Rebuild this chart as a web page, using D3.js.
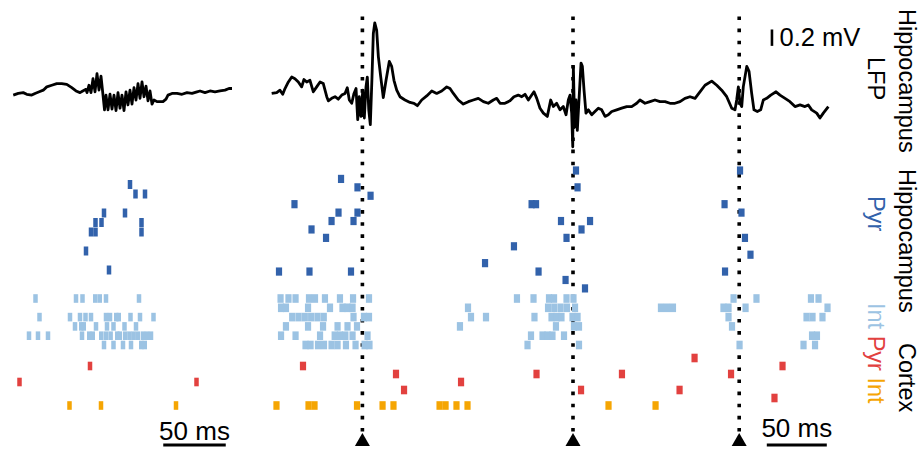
<!DOCTYPE html>
<html><head><meta charset="utf-8">
<script src="https://cdn.jsdelivr.net/npm/d3@7"></script>
<style>body{margin:0;background:#fff}svg{display:block}text{font-family:"Liberation Sans",Arial,sans-serif}</style>
</head><body><svg id="c" width="922" height="449"></svg>
<script>
// ---------------- DATA ----------------
// LFP traces: [time (ms), voltage (mV)]
const lfpLeft = [[1,.06],[5,.08],[9,.09],[11.8,.07],[15.8,.06],[18.4,.08],[21.8,.10],[25,.12],[27.8,.16],[31.8,.18],[35.8,.20],[39.8,.20],[43.8,.19],[47.8,.15],[51.2,.11],[54.4,.09],[56.6,.11],[59.2,.13],
[60,.09],[61.6,.18],[63.2,.09],[64.8,.26],[66.4,.10],[68,.32],[69.6,.12],[71.2,.29],[72.8,.06],[74,-.12],
[75.2,.06],[76.8,-.12],[78.4,.07],[80,-.11],[81.6,.06],[83.2,-.13],[84.8,.09],[86.4,-.10],[88,.06],[89.6,-.13],[91.2,.10],[92.8,-.06],[94.4,.12],[96,-.05],[97.6,.15],[99.2,0],[100.8,.20],[102.4,.02],[104,.22],[105.6,.04],[107.2,.17],[108.8,-.01],[110.4,.11],[112,-.05],[113.6,0],
[116,-.02],[118.4,-.02],[120.8,-.02],[123.2,.01],[124.8,.06],[128,.08],[132,.08],[136,.07],[140,.09],[144,.08],[148,.10],[150.4,.11],[154.4,.09],[158.4,.11],[162.4,.10],[166.4,.11],[170.4,.12],[173.6,.14],[176,.14]];

const lfpRight = [[1.4,.08],[5.6,.09],[8.3,.12],[10.6,.07],[12.5,.14],[15.3,.22],[18.1,.28],[20.8,.26],[23.6,.22],[26.4,.16],
[28.3,.25],[30.6,.22],[33.3,.24],[36.1,.10],[38.9,.16],[41.7,.22],[44.4,.20],[47.3,.04],[48.6,-.01],[51.4,.02],
[54.2,.04],[56.9,.01],[59.8,.06],[62.5,.08],[64.4,.15],[66.1,0],[68.1,-.04],[70,.08],[71.7,.14],[73.1,-.24],
[74.4,.04],[75.8,-.20],[77.3,.12],[78.6,-.22],[80,.16],[81.1,.28],[82.3,-.12],[83.6,-.30],[85,.28],[86.1,.81],
[87.3,.94],[88.9,.85],[90.3,.53],[92.3,.28],[94.4,.03],[96.7,.24],[99.4,.47],[101.4,.41],[103.3,.24],[105.6,.12],
[108.3,.04],[112.5,0],[116.7,-.03],[120,-.04],[122.8,-.07],[126.4,0],[130.6,.05],[134.8,.11],[138.9,.08],[143.1,.11],
[147.3,.16],[150,.14],[152.8,.08],[156.9,0],[161.1,-.05],[165.3,-.02],[169.4,0],[173.6,.02],[177.8,-.02],[181.9,-.04],
[186.1,0],[188.9,.02],[191.7,-.04],[195.8,-.04],[200,-.01],[203.3,.04],[206.9,.06],[209.8,.04],[212.5,.07],[215.3,0],
[218.1,.06],[220,.10],[222.3,.02],[225,-.10],[227.8,-.16],[231.1,-.20],[233.9,0],[236.1,-.08],[238.9,-.04],[241.7,-.12],
[244.4,-.08],[246.7,-.18],[248.6,0],[250,.06],[251.4,-.16],[252.3,-.57],[252.8,.41],[253.9,-.33],[255,0],[256.1,-.37],
[257.8,.08],[259.2,.45],[260.3,.41],[261.7,.12],[263.3,-.16],[265.3,-.12],[268.1,-.18],[270.8,-.14],[273.6,-.10],[276.4,-.12],
[279.2,-.20],[281.9,-.18],[284.8,-.14],[288.9,-.12],[293.1,-.10],[297.3,-.08],[301.4,-.08],[305.6,-.04],[308.3,0],[312.5,-.04],
[316.7,-.02],[320.8,0],[325,-.02],[329.2,-.02],[333.3,-.04],[337.5,-.04],[341.7,-.02],[345.8,.02],[350,.04],[354.2,.02],
[358.3,.10],[362.5,.18],[368.1,.23],[372.3,.18],[376.4,.12],[380.6,.04],[384.8,-.10],[387.5,-.12],[388.9,0],[390.3,.16],
[391.7,-.04],[393.1,-.08],[394.4,.16],[397.3,.41],[399.2,.35],[401.4,.08],[403.3,-.12],[406.1,-.14],[408.9,-.12],[411.1,0],
[413.9,.02],[417.3,.06],[421.7,.10],[425,.06],[429.2,.02],[433.3,-.02],[437.5,-.08],[441.7,-.06],[445.8,-.08],[448.6,-.06],
[451.4,-.12],[455.6,-.16],[458.3,-.22],[461.1,-.16],[465.3,-.08]];

// Spikes: [time (ms), neuron row]
const leftHippPyr = [[94.4,0],[98.8,1],[106.4,1],[73.6,3],[90.4,3],[66.8,4],[66.8,5],[71.6,4],[63.2,5],[103.6,4],[103.6,5],[59.2,7],[77.6,9]];
const leftHippInt = [[18.8,0],[51.2,0],[56.4,0],[66.6,0],[70.2,0],[75.2,0],[101.6,0],
 [22,2],[46.4,2],[54.4,2],[58.8,2],[63.2,2],[75.2,2],[78.4,2],[83.4,2],[85.4,2],[94.8,2],[102.4,2],[113.2,2],
 [50.4,3],[55.4,3],[57.4,3],[67.2,3],[76,3],[81.2,3],[90,3],[99.2,3],
 [13.6,4],[20.8,4],[28.8,4],[56,4],[61.8,4],[64.6,4],[71.4,4],[75.2,4],[78.9,4],[84.2,4],[86.2,4],[90.5,4],[94,4],[97.3,4],[100.7,4],[104.8,4],[108,4],[111.2,4],
 [73.6,5],[81.2,5],[88.8,5],[95.2,5],[103.4,5],[106.2,5]];
const leftCtxPyr = [[62.4,1],[6,3],[147.6,3]];
const leftCtxInt = [46,71.2,131.2];

const rightHippPyr = [[255,0],[391.7,0],[59.2,1],[72.9,2],[256.3,2],[83.8,3],[20.4,4],[218,4],[221.7,4],[378.8,4],
 [57.1,5],[72.9,5],[392.9,5],[51.3,6],[69.6,6],[242.5,6],[266.7,6],[34.6,7],[259.6,7],[46.7,8],[247.1,8],[395.8,8],
 [203.3,9],[400.4,10],[179.2,11],[7.5,12],[32.9,12],[67.5,12],[223.8,12],[379.2,12],[246.3,13],[262.5,14]];
const rightHippInt = [
 [8.8,0],[15.4,0],[21.3,0],[32.5,0],[37.5,0],[45.8,0],[58.3,0],[69.2,0],[82.5,0],[205.8,0],[219.6,0],[232.5,0],[236.7,0],[247.1,0],[252.9,0],[386.3,0],[405.4,0],[450.8,0],[457.1,0],
 [9.2,1],[13.3,1],[31.7,1],[50,1],[60.4,1],[64.6,1],[68.8,1],[165,1],[231.7,1],[236.9,1],[242.2,1],[247.5,1],[254.2,1],[325.8,1],[330.8,1],[335.8,1],[377.9,1],[382.1,1],[396.3,1],[464.6,1],
 [18.5,2],[23.8,2],[29,2],[34.3,2],[39.6,2],[44.8,2],[69.6,2],[78.3,2],[82.5,2],[167.5,2],[180,2],[220.4,2],[234.6,2],[238.8,2],[242.9,2],[252.1,2],[256.3,2],[382.1,2],[447.1,2],[452.1,2],[460.4,2],
 [13.3,3],[31.7,3],[44.2,3],[56.3,3],[64.6,3],[72.5,3],[158.3,3],[238.3,3],[253.3,3],[257.5,3],[385,3],
 [9.2,4],[21.3,4],[41.7,4],[53.9,4],[58.3,4],[62.8,4],[68.8,4],[81.3,4],[217.5,4],[227.1,4],[231.3,4],[235.4,4],[245,4],[451.7,4],[455.8,4],
 [29.6,5],[33.8,5],[40,5],[45,5],[51.3,5],[56.3,5],[63.3,5],[71.3,5],[78.8,5],[82.9,5],[214.6,5],[257.5,5],[391.3,5],[444.6,5],[454.2,5]];
const rightCtxPyr = [[27.5,1],[105,2],[111.7,4],[159.2,3],[222.1,2],[259.2,4],[293.3,2],[341.3,4],[353.8,0],[384.2,2],[427.1,1],[420.4,5]];
const rightCtxInt = [5.4,32.1,37.1,72.5,93.8,102.9,141.3,146.3,155.4,164.6,282.1,321.3];

const rippleTimes = [77, 252.5, 391];   // ms, right panel
const scaleBarMs = 50;
const scaleBarMv = 0.2;

// ---------------- DRAW ----------------
const svg = d3.select("#c");
const C = {pyr:"#3262ab", int:"#9cc3e3", cpyr:"#e2413f", cint:"#f5a503"};

const xL = d3.scaleLinear().domain([0,176]).range([12,232]);
const xR = d3.scaleLinear().domain([0,466]).range([270,829.2]);
const yLfp = d3.scaleLinear().domain([0,1]).range([100,18]);
const yPyrL = d3.scaleLinear().domain([0,9]).range([184.5,270]);
const yPyrR = d3.scaleLinear().domain([0,14]).range([170.5,288.4]);
const yInt = d3.scaleLinear().domain([0,5]).range([298.5,345]);
const yCPyr = d3.scaleLinear().domain([0,5]).range([358,398]);
const yCInt = 405.5;

function spikes(data, x, y, w, h, color){
  svg.append("g").selectAll("rect").data(data).join("rect")
    .attr("x", d => x(d[0]) - w/2)
    .attr("y", d => y(d) - h/2)
    .attr("width", w).attr("height", h)
    .attr("fill", color);
}
// dotted ripple lines
const dots = svg.append("g");
rippleTimes.forEach(t => {
  dots.append("line").attr("x1", xR(t)).attr("x2", xR(t)).attr("y1", 16.5).attr("y2", 432)
    .attr("stroke","#000").attr("stroke-width",3.6).attr("stroke-dasharray","3.6 8.5");
  dots.append("path").attr("d", `M${xR(t)-7.5},446L${xR(t)+7.5},446L${xR(t)},433Z`).attr("fill","#000");
});

// LFP
const line = x => d3.line().x(d => x(d[0])).y(d => yLfp(d[1]));
svg.append("path").datum(lfpLeft).attr("d", line(xL)).attr("fill","none").attr("stroke","#000").attr("stroke-width",2.8).attr("stroke-linejoin","round");
svg.append("path").datum(lfpRight).attr("d", line(xR)).attr("fill","none").attr("stroke","#000").attr("stroke-width",2.8).attr("stroke-linejoin","round");

// rasters
spikes(leftHippPyr, xL, d => yPyrL(d[1]), 4.5, 9, C.pyr);
spikes(leftHippInt, xL, d => yInt(d[1]), 4.5, 8.6, C.int);
spikes(leftCtxPyr, xL, d => yCPyr(d[1]), 4.5, 8.6, C.cpyr);
spikes(leftCtxInt.map(t => [t]), xL, d => yCInt, 4.5, 8.6, C.cint);
spikes(rightHippPyr, xR, d => yPyrR(d[1]), 6.2, 8.2, C.pyr);
spikes(rightHippInt, xR, d => yInt(d[1]), 6.2, 8.6, C.int);
spikes(rightCtxPyr, xR, d => yCPyr(d[1]), 6.2, 8.6, C.cpyr);
spikes(rightCtxInt.map(t => [t]), xR, d => yCInt, 6.2, 8.6, C.cint);

// scale bars
const sb = svg.append("g");
sb.append("line").attr("x1", xL(121)).attr("x2", xL(121+scaleBarMs)).attr("y1",445).attr("y2",445).attr("stroke","#000").attr("stroke-width",3.2);
sb.append("text").attr("x", (xL(121)+xL(121+scaleBarMs))/2).attr("y",440).attr("text-anchor","middle").attr("font-size",26).text(scaleBarMs+" ms");
sb.append("line").attr("x1", xR(414)).attr("x2", xR(414+scaleBarMs)).attr("y1",445).attr("y2",445).attr("stroke","#000").attr("stroke-width",3.2);
sb.append("text").attr("x", (xR(414)+xR(414+scaleBarMs))/2).attr("y",437).attr("text-anchor","middle").attr("font-size",26).text(scaleBarMs+" ms");
sb.append("line").attr("x1", xR(418.3)).attr("x2", xR(418.3)).attr("y1", yLfp(0.66)).attr("y2", yLfp(0.66+scaleBarMv)).attr("stroke","#000").attr("stroke-width",2.6);
sb.append("text").attr("x", xR(418.3)+7.5).attr("y",45.8).attr("font-size",25.5).text(scaleBarMv+" mV");

// right labels (rotated)
function vlabel(x, y, parts){
  const t = svg.append("text").attr("transform", `translate(${x},${y}) rotate(90)`).attr("font-size",23.5);
  parts.forEach(p => t.append("tspan").attr("fill", p[1]).text(p[0]));
}
vlabel(899, 9, [["Hippocampus","#000"]]);
vlabel(868, 57, [["LFP","#000"]]);
vlabel(899, 169, [["Hippocampus","#000"]]);
vlabel(868, 196, [["Pyr",C.pyr]]);
vlabel(899, 343, [["Cortex","#000"]]);
vlabel(868, 303, [["Int ",C.int],["Pyr ",C.cpyr],["Int",C.cint]]);
</script></body></html>
